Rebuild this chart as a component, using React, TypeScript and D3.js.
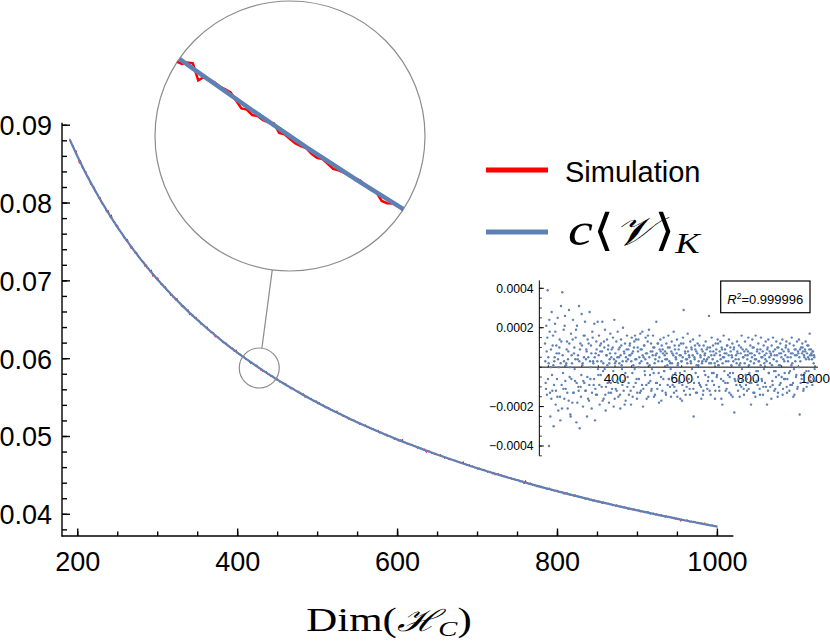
import React from "react";
import * as d3 from "d3";

// ---------- data ----------
const dims = d3.range(190, 1001, 10);
const modelValues = [
  0.08815, 0.08591, 0.08384, 0.08192, 0.08011, 0.07843, 0.07685, 0.07535, 0.07394, 0.07261,
  0.07135, 0.07015, 0.06901, 0.06792, 0.06688, 0.06589, 0.06495, 0.06404, 0.06317, 0.06233,
  0.06153, 0.06075, 0.06001, 0.05929, 0.05859, 0.05792, 0.05728, 0.05665, 0.05605, 0.05546,
  0.05489, 0.05434, 0.0538, 0.05328, 0.05278, 0.05229, 0.05181, 0.05134, 0.05089, 0.05045,
  0.05002, 0.0496, 0.04919, 0.0488, 0.04841, 0.04803, 0.04766, 0.04729, 0.04694, 0.04659,
  0.04625, 0.04592, 0.0456, 0.04528, 0.04497, 0.04466, 0.04437, 0.04407, 0.04379, 0.0435,
  0.04323, 0.04296, 0.04269, 0.04243, 0.04217, 0.04192, 0.04167, 0.04143, 0.04119, 0.04096,
  0.04073, 0.0405, 0.04028, 0.04006, 0.03984, 0.03963, 0.03942, 0.03921, 0.03901, 0.03881,
  0.03862, 0.03842,
];

// residuals (simulation - model), in units of 1e-5, even dims 190..1000
const evenDims = d3.range(190, 1001, 2);
const evenResiduals = [
  12, -8, 21, -14, 39, 5, -40, 18, -25, 9, 28, -12, 16, -30, 3, 22, -19, 11, -6, 25,
  -22, 7, 14, -27, 31, -9, 38, -3, 19, -16, 26, -11, 2, 13, -21, 8, 29, -5, -24, 17,
  6, -18, 24, -13, 10, -7, 15, -28, 21, 4, -10, 31, -31, 12, -15, 27, 1, -20, 16, -8,
  23, -12, 9, -25, 14, 5, -17, 28, -6, 11, -21, 18, 3, -9, 22, -27, 7, 13, -14, 23,
  -4, 16, -19, 8, 12, -10, 23, -2, -16, 10, 19, -22, 6, 14, -8, 11, -18, 4, 17, -13,
  9, -6, 15, -20, 24, 2, -11, 13, -7, 18, -15, 5, 10, -21, 14, 1, -9, 20, -12, 7,
  12, -17, 3, 16, -5, 9, -14, 11, 6, -19, 15, -3, 8, -10, 13, 16, -8, 4, -16, 10,
  14, -6, 2, 17, -12, 9, 18, -20, 5, 11, -4, 15, -9, 7, 13, -15, 19, 1, -7, 12,
  -11, 8, 16, -3, 10, -14, 6, 23, -8, 12, 3, -18, 9, 14, -5, 11, -12, 7, 15, -2,
  8, -13, 12, 4, -9, 16, -6, 10, 2, -15, 13, 7, -4, 18, -10, 9, 5, -12, 14, 1,
  -7, 11, 6, -16, 12, 3, -9, 15, 29, -5, 8, -14, 10, 4, 17, -8, 6, -11, 13, 2,
  9, -6, 14, -25, 5, 11, -3, 8, -13, 12, 1, -8, 16, 6, -10, 9, 3, -14, 11, -2,
  7, 13, -9, 4, 10, -5, 26, -12, 8, 2, 15, -7, 11, -3, 6, -16, 12, 9, -4, 14,
  1, -10, 8, 13, -6, 10, -19, 5, 16, -2, 9, -12, 7, 11, -8, 3, 14, -5, 10, -14,
  6, 12, -3, 9, -23, 28, 4, -9, 13, 7, -6, 11, -15, 2, 10, 16, -7, 5, -11, 8,
  13, -4, 9, -12, 6, 15, 1, -8, 11, -19, 7, 14, -5, 10, -13, 4, 16, -2, 8, -9,
  12, 3, -11, 9, 15, -6, 5, -14, 11, 2, -8, 13, 7, -19, 10, 14, -3, 8, -10, 6,
  11, -7, 15, 4, -12, 9, -2, 13, 6, -15, 10, 1, -9, 12, 7, -5, 14, -11, 8, 3,
  -6, 10, 13, -13, 5, 9, -3, 12, -9, 7, 15, 2, -8, 11, -14, 6, 9, -4, 13, -10,
  7, 14, -24, 3, 10, -6, 12, 8, -11, 5, 9, 13, -2, 7, -8, 11, 4, 17, -5, 9,
  6, -9, 8, 2, 5, -7,
];

// residuals (1e-5 units), odd dims 191..999
const oddDims = d3.range(191, 1000, 2);
const oddResiduals = [
  3, -11, 8, 15, -6, 2, 24, -13, 0, -16, -4, 11, 1, -9, 5, 18, -12, 7, -15, 4,
  0, 10, -15, 2, 13, -21, 6, -11, 3, 21, -7, 1, 9, -13, 4, -17, 12, 0, -25, -6,
  2, 14, -13, 7, -1, 4, 19, -8, -18, 6, -12, 3, 9, -10, -4, 11, 2, -7, 5, 16,
  -12, 4, 8, -5, -16, 12, -9, 3, 0, 7, -13, 15, 2, -6, 5, -11, -14, 9, 3, -1,
  6, -9, 11, -4, 3, 8, -17, 2, 13, -1, -14, -10, 6, 1, 9, -13, 2, 7, -8, 5,
  -11, 10, -2, 4, -16, 7, 3, -12, 5, -8, 9, 2, -14, 6, 11, -1, 3, -7, 8, -19,
  -3, 5, 9, -10, 4, -8, 6, 12, -12, 3, 7, -15, 1, 10, -1, 4, 14, -6, -13, 8,
  0, 5, -13, 9, 3, -9, 6, -11, 11, -2, 4, 7, -16, 2, 16, -8, 5, -4, 8, -12,
  -1, 6, 10, -15, 2, 4, -8, 7, -11, 12, -3, 5, -9, 8, -17, 3, 9, -6, -2, 6,
  4, -14, 7, 1, 10, -6, 3, -10, -1, 8, 2, -9, 6, -13, 11, -3, 4, 7, -15, 2,
  9, -8, -3, 6, 3, -17, 5, 12, -12, -2, 7, 4, -10, 2, 8, -6, 5, -14, 3, 10,
  -1, 6, -11, -8, 4, 9, -13, 1, 7, -5, 3, 11, -9, 5, -16, 2, 8, -12, 4, 6,
  -4, 3, 9, -11, -7, 5, 2, 10, -14, 6, -3, 4, 8, -9, 2, -12, 7, -5, 3, 12,
  1, -12, 6, 4, -16, 9, 2, -7, 5, 7, -8, 3, -11, 11, -4, 6, -13, -3, 8, 1,
  5, -15, 3, 10, -6, -7, 6, 2, 8, -12, 4, 1, -9, 7, -10, -1, 9, 5, -14, 2,
  6, -9, -6, 4, 8, -11, -3, 7, 3, -8, 5, 10, -13, 2, 6, -15, 4, -7, 9, -2,
  3, 7, -14, 1, 5, -7, 8, -10, -1, 6, 4, -10, 3, 9, -12, -3, 5, 2, 7, -16,
  1, -9, 8, -2, 6, -11, -5, 3, 10, -13, -4, 7, 1, -8, 5, 9, -14, 4, -6, -3,
  6, 11, -10, -6, 3, 8, -12, -2, 5, 1, -9, 7, -15, -1, 9, 3, -5, 6, -11, 8,
  0, 5, 9, -8, -4, 7, 10, -12, 6, -3, 8, 4, -10, 11, 5, -2, 9, 6, -7, 7,
  4, 8, -6, 6, -1,
];

// fine-grained simulation deviation inside the magnified window (1e-5 units)
const zoomDims = d3.range(400, 456, 1);
const zoomDeviation = [
  -4, 3, -6, 2, -5, -7, -9, -6, 4, 10,
  -15, -2, 1, 3, 2, 4, 5, -3, -11, -6,
  -9, -4, -5, -2, 3, -8, -4, -6, -7, -5,
  -2, -6, -7, -3, -5, -8, -4, -2, -1, 1,
  3, 0, -2, 0, -10, -8, -2, 0, -3, 1,
  -2, 0, -1, -3, 2, -1,
];

const xTicks = [200, 400, 600, 800, 1000];
const yTicks = [0.04, 0.05, 0.06, 0.07, 0.08, 0.09];
const insetXTicks = [400, 600, 800, 1000];
const insetYTicks = [-0.0004, -0.0002, 0.0002, 0.0004];
const rSquaredLabel = "=0.999996";
const zoomCenterDim = 427;

const RED = "#FF0000";
const BLUE = "#5E81B5";
const SANS = "'Liberation Sans', Arial, Helvetica, sans-serif";
const SERIF = "'Liberation Serif', 'DejaVu Serif', 'Times New Roman', serif";

export default function App() {
  // main scales
  const x = d3.scaleLinear().domain([180.3, 1020]).range([62, 733.4]);
  const y = d3.scaleLinear().domain([0.0372, 0.0903]).range([536.1, 122.9]);
  const modelAt = d3.scaleLinear().domain(dims).range(modelValues);

  const residualPts: [number, number][] = [
    ...evenDims.map((d, i) => [d, evenResiduals[i] * 1e-5] as [number, number]),
    ...oddDims.map((d, i) => [d, oddResiduals[i] * 1e-5] as [number, number]),
  ].sort((a, b) => a[0] - b[0]);

  const modelPts: [number, number][] = dims.map((d, i) => [d, modelValues[i]]);
  const simPts: [number, number][] = residualPts.map(([d, res]) => [d, modelAt(d) + res]);

  const line = d3
    .line<[number, number]>()
    .x((d) => x(d[0]))
    .y((d) => y(d[1]));

  // magnifier
  const P = { x: x(zoomCenterDim), y: y(modelAt(zoomCenterDim)) };
  const r = 20;
  const C = { x: 290, y: 136 };
  const R = 135;
  const k = R / r;
  const mx = (v: number) => C.x + (x(v) - P.x) * k;
  const my = (v: number) => C.y + (y(v) - P.y) * k;
  const magLine = d3
    .line<[number, number]>()
    .x((d) => mx(d[0]))
    .y((d) => my(d[1]));
  const zoomPts: [number, number][] = zoomDims.map((d, i) => [d, modelAt(d) + zoomDeviation[i] * 1e-5]);
  const dx = C.x - P.x;
  const dy = C.y - P.y;
  const dl = Math.hypot(dx, dy);
  const ux = dx / dl;
  const uy = dy / dl;

  // inset scales
  const ix = d3.scaleLinear().domain([400, 1000]).range([615, 815]);
  const iy = d3.scaleLinear().domain([-0.0004, 0.0004]).range([446, 288.3]);
  const ixMin = 173;
  const ixMax = 1009;
  const iyMin = -0.00045;
  const iyMax = 0.00044;

  const yMinor = d3.range(0.038, 0.0905, 0.002);
  const xMinor = d3.range(200, 1001, 50);
  const insetYMinor = d3.range(-0.00045, 0.00045, 0.00005);
  const insetXMinor = d3.range(200, 1001, 50);

  const fmtInset = (v: number) => (v < 0 ? "\u2212" : "") + Math.abs(v).toFixed(4);

  return (
    <svg width={830} height={644} style={{ position: "absolute", left: 0, top: 0, background: "#fff" }}>
      <defs>
        <clipPath id="magClip">
          <circle cx={C.x} cy={C.y} r={R} />
        </clipPath>
      </defs>

      {/* main axes */}
      <g stroke="#000" strokeWidth={1.4}>
        <line x1={62} x2={62} y1={122.7} y2={536.5} />
        <line x1={61.5} x2={733.4} y1={536} y2={536} />
        {yMinor.map((v, i) => (
          <line key={"ym" + i} x1={62} x2={67} y1={y(v)} y2={y(v)} />
        ))}
        {yTicks.map((v) => (
          <line key={"yt" + v} x1={62} x2={70} y1={y(v)} y2={y(v)} />
        ))}
        {xMinor.map((v) => (
          <line key={"xm" + v} x1={x(v)} x2={x(v)} y1={536} y2={531.5} />
        ))}
        {xTicks.map((v) => (
          <line key={"xt" + v} x1={x(v)} x2={x(v)} y1={536} y2={528.5} />
        ))}
      </g>
      <g fontFamily={SANS} fontSize={27} fill="#000">
        {yTicks.map((v) => (
          <text key={"yl" + v} x={52} y={y(v) + 10} textAnchor="end">
            {v.toFixed(2)}
          </text>
        ))}
        {xTicks.map((v) => (
          <text key={"xl" + v} x={x(v)} y={570.7} textAnchor="middle">
            {v}
          </text>
        ))}
      </g>

      {/* x axis title */}
      <g transform="translate(389,631) scale(1.3,1)">
        <text fontFamily={SERIF} fontSize={33} textAnchor="middle" fill="#000">
          Dim(
          <tspan fontFamily="'DejaVu Serif', serif" fontStyle="italic" fontSize={30}>ℋ</tspan>
          <tspan fontStyle="italic" fontSize={22} dy={5}>C</tspan>
          <tspan dy={-5}>)</tspan>
        </text>
      </g>

      {/* main curves */}
      <path d={line(simPts) ?? ""} fill="none" stroke={RED} strokeWidth={1} />
      <path d={line(modelPts) ?? ""} fill="none" stroke={BLUE} strokeWidth={2.2} />

      {/* magnifier */}
      <circle cx={P.x} cy={P.y} r={r} fill="none" stroke="#8c8c8c" strokeWidth={1.2} />
      <line
        x1={P.x + ux * r}
        y1={P.y + uy * r}
        x2={C.x - ux * R}
        y2={C.y - uy * R}
        stroke="#8c8c8c"
        strokeWidth={1.2}
      />
      <circle cx={C.x} cy={C.y} r={R} fill="#fff" stroke="#8c8c8c" strokeWidth={1.2} />
      <g clipPath="url(#magClip)">
        <path d={magLine(zoomPts) ?? ""} fill="none" stroke={RED} strokeWidth={2.5} strokeLinejoin="miter" />
        <path d={magLine(modelPts) ?? ""} fill="none" stroke={BLUE} strokeWidth={4.5} />
      </g>

      {/* legend */}
      <line x1={486} x2={548} y1={170} y2={170} stroke={RED} strokeWidth={5} />
      <text x={565} y={182} fontFamily={SANS} fontSize={29} fill="#000">
        Simulation
      </text>
      <line x1={486} x2={548} y1={232} y2={232} stroke={BLUE} strokeWidth={5} />
      <g transform="translate(568,245) scale(1.22,1)">
        <text x={0} y={0} fontFamily={SERIF} fontSize={46} fill="#000">
          <tspan fontStyle="italic">c</tspan>
          <tspan fontFamily="'DejaVu Serif', serif" fontSize={44}>⟨</tspan>
          <tspan fontFamily="'DejaVu Serif', serif" fontStyle="italic" fontSize={40}>𝒱</tspan>
          <tspan fontFamily="'DejaVu Serif', serif" fontSize={44}>⟩</tspan>
          <tspan fontStyle="italic" fontSize={30} dy={8}>K</tspan>
        </text>
      </g>

      {/* inset residual plot */}
      <g stroke="#000" strokeWidth={1}>
        <line x1={ix(ixMin)} x2={ix(ixMin)} y1={iy(iyMax)} y2={iy(iyMin)} />
        <line x1={ix(ixMin)} x2={ix(ixMax)} y1={iy(0)} y2={iy(0)} />
        {insetYMinor.map((v, i) => (
          <line key={"iym" + i} x1={ix(ixMin)} x2={ix(ixMin) + 2.5} y1={iy(v)} y2={iy(v)} strokeWidth={0.8} />
        ))}
        {insetYTicks.map((v) => (
          <line key={"iyt" + v} x1={ix(ixMin)} x2={ix(ixMin) + 4.5} y1={iy(v)} y2={iy(v)} />
        ))}
        {insetXMinor.map((v) => (
          <line key={"ixm" + v} x1={ix(v)} x2={ix(v)} y1={iy(0)} y2={iy(0) - 2} strokeWidth={0.8} />
        ))}
      </g>
      <g fontFamily={SANS} fill="#000">
        {insetYTicks.map((v) => (
          <text key={"iyl" + v} x={533.5} y={iy(v) + 4.3} fontSize={12.2} textAnchor="end">
            {fmtInset(v)}
          </text>
        ))}
        {insetXTicks.map((v) => (
          <text key={"ixl" + v} x={ix(v)} y={383} fontSize={13.5} textAnchor="middle">
            {v}
          </text>
        ))}
      </g>
      <g fill={BLUE}>
        {residualPts.map((p, i) => (
          <circle key={"rp" + i} cx={ix(p[0])} cy={iy(p[1])} r={1.2} />
        ))}
      </g>
      <rect x={720.7} y={281} width={89.3} height={31.7} fill="#fff" stroke="#000" strokeWidth={1.2} />
      <text x={765.3} y={304} fontFamily={SANS} fontSize={13} textAnchor="middle" fill="#000">
        <tspan fontStyle="italic">R</tspan>
        <tspan fontSize={8.5} dy={-5.5}>2</tspan>
        <tspan dy={5.5}>{rSquaredLabel}</tspan>
      </text>
    </svg>
  );
}
